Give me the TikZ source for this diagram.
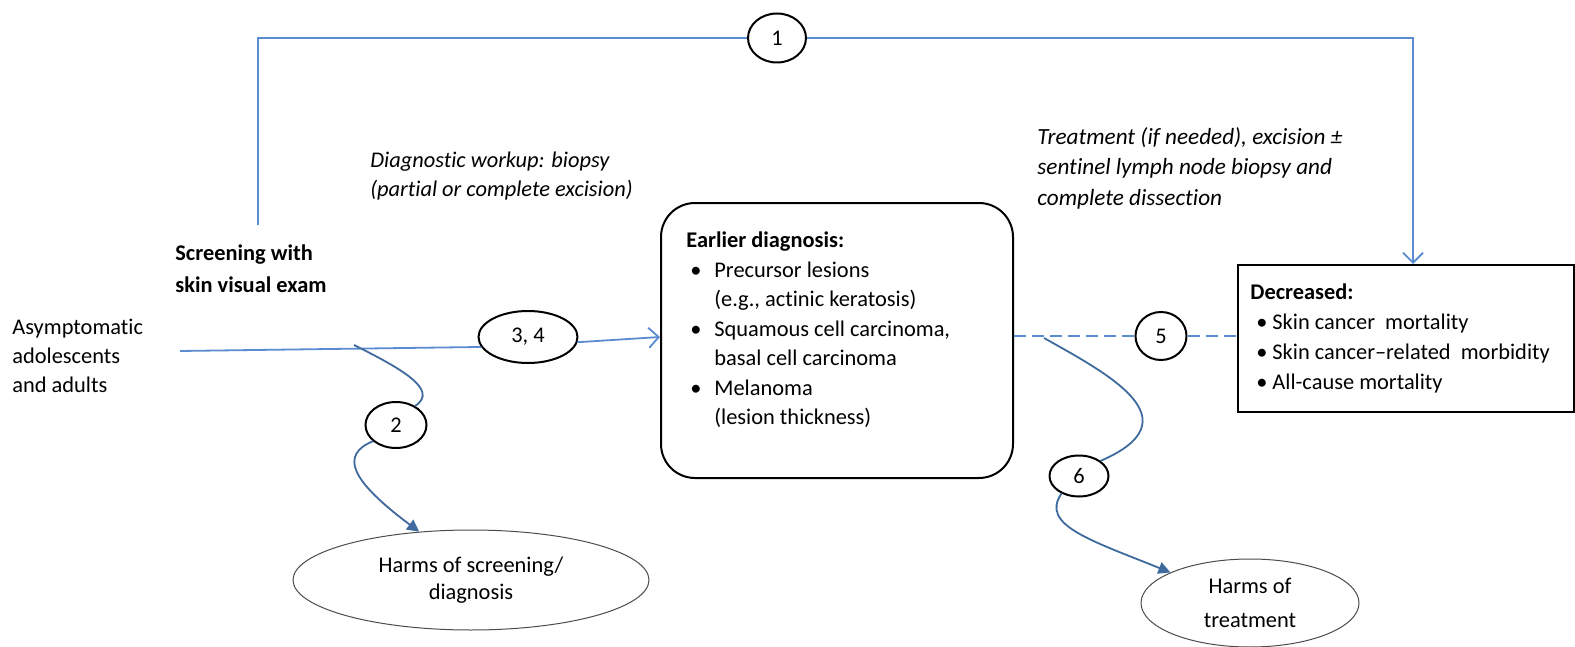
\documentclass[tikz,border=0pt]{standalone}
\usepackage{fontspec}
\setmainfont{Carlito}[Ligatures=NoCommon]
\usetikzlibrary{arrows.meta,shapes.geometric}
\definecolor{lb}{HTML}{5B8BD0}
\definecolor{db}{HTML}{3F6A9E}
\tikzset{
  num/.style={ellipse, draw=black, line width=1pt, inner sep=0pt, fill=white},
  harm/.style={ellipse, draw=black!70, line width=0.5pt, inner sep=0pt, align=center},
  txt/.style={inner sep=0pt, anchor=west, align=left},
  lbline/.style={draw=lb, line width=0.9pt},
  dbline/.style={draw=db, line width=0.9pt},
  openarr/.style={-{Straight Barb[length=5pt,width=10pt]}},
  fillarr/.style={-{Triangle[length=6pt,width=6pt]}}
}
\newcommand{\bul}{\hspace*{2pt}\makebox[12pt][l]{•}}
\newcommand{\bind}{\hspace*{14pt}}
\newcommand{\dbul}{\hspace*{3pt}\makebox[8pt][l]{•}}
\begin{document}
\begin{tikzpicture}[x=0.5pt,y=-0.5pt,font=\fontsize{11.2}{14.6}\selectfont]
\useasboundingbox[fill=white] (0,0) rectangle (1575,647);

% boxes
\node[draw, line width=1pt, rounded corners=17pt, minimum width=176pt, minimum height=137.5pt] (ed) at (837,340.5) {};
\node[draw, line width=1pt, minimum width=168pt, minimum height=73.5pt] (dec) at (1406,338.5) {};

\node[txt, font=\fontsize{11.2}{14.75}\selectfont] (edt) at (686,330) {\textbf{Earlier diagnosis:}\\
\bul Precursor lesions\\
\bind (e.g., actinic keratosis)\\
\bul Squamous cell carcinoma,\\
\bind basal cell carcinoma\\
\bul Melanoma\\
\bind (lesion thickness)};

\node[txt, font=\fontsize{11.2}{15}\selectfont] (dect) at (1250,338) {\textbf{Decreased:}\\
\dbul Skin cancer\ \ mortality\\
\dbul Skin cancer–related\ \ morbidity\\
\dbul All-cause mortality};

% texts
\node[txt] (pop) at (12,356) {Asymptomatic\\adolescents\\and adults};
\node[txt, font=\fontsize{11.2}{16}\selectfont\bfseries] (scr) at (175,269) {Screening with\\skin visual exam};
\node[txt, font=\fontsize{11.2}{14.6}\selectfont\itshape] (dw) at (370,176) {Diagnostic workup: biopsy\\(partial or complete excision)};
\node[txt, font=\fontsize{11.6}{15.2}\selectfont\itshape] (tr) at (1037,168) {Treatment (if needed), excision ±\\sentinel lymph node biopsy and\\complete dissection};

% harms
\node[harm, minimum width=178pt, minimum height=50pt, font=\fontsize{11.2}{13.8}\selectfont] (hs) at (471,580) {Harms of screening/\\diagnosis};
\node[harm, minimum width=109pt, minimum height=44pt, font=\fontsize{11.2}{17}\selectfont] (ht) at (1250,603) {Harms of\\treatment};

% numbered ovals
\node[num, minimum width=29pt, minimum height=24.5pt] (n1) at (777,38) {1};
\node[num, minimum width=49.5pt, minimum height=26pt] (n34) at (528,337) {3, 4};
\node[num, minimum width=30.5pt, minimum height=23pt] (n2) at (396,425) {2};
\node[num, minimum width=25.5pt, minimum height=24pt] (n5) at (1161,336) {5};
\node[num, minimum width=29.5pt, minimum height=20.5pt] (n6) at (1079,476) {6};

% connectors
\coordinate (s1) at (258,225);
\draw[lbline] (s1) |- (n1.west);
\draw[lbline, openarr] (n1.east) -| ([xshift=3.5pt]dec.north);

\coordinate (a0) at (180,351);
\draw[lbline] (a0) -- (n34.192);
\draw[lbline, openarr] (n34.-6) -- (ed.west |- n34.east);

\draw[lbline, dash pattern=on 6pt off 3pt] (ed.east |- n5) -- (n5.west);
\draw[lbline, dash pattern=on 6pt off 3pt] (n5.east) -- (dec.west |- n5);

\coordinate (c2) at (354,345);
\draw[dbline] (c2) .. controls (400,368) and (440,390) .. (n2.45);
\draw[dbline, fillarr] (n2.215) .. controls (340,455) and (350,480) .. (hs.137);

\coordinate (c6) at (1044,338);
\draw[dbline] (c6) .. controls (1110,375) and (1195,420) .. (n6.35);
\draw[dbline, fillarr] (n6.225) .. controls (1040,525) and (1090,540) .. (ht.159);
\end{tikzpicture}
\end{document}
